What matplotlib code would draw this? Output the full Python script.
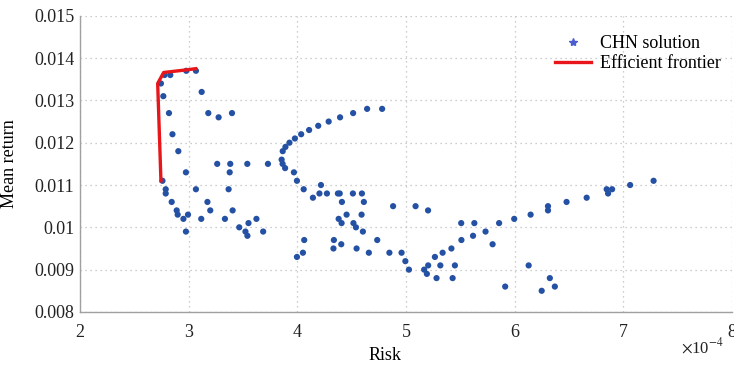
import numpy as np
import matplotlib
matplotlib.use("Agg")
import matplotlib.pyplot as plt
from matplotlib.lines import Line2D
from matplotlib import font_manager

names = {f.name for f in font_manager.fontManager.ttflist}
serif_pref = [n for n in ['Liberation Serif', 'Times New Roman', 'Nimbus Roman', 'DejaVu Serif'] if n in names]
plt.rcParams['font.family'] = 'serif'
plt.rcParams['font.serif'] = serif_pref + ['DejaVu Serif']
plt.rcParams['mathtext.fontset'] = 'stix'

# CHN solution points: risk (x 1e-4) and mean return
risk_e4 = [
    2.745, 2.778, 2.831, 2.978, 3.067, 2.767, 3.120, 2.819, 3.181, 3.276,
    3.399, 2.851, 2.905, 3.263, 3.383, 3.540, 3.730, 2.975, 3.378, 2.759,
    2.789, 2.789, 3.067, 3.368, 2.844, 3.173, 2.890, 2.899, 2.994, 3.199,
    3.405, 2.952, 3.116, 3.334, 2.975, 3.466, 3.523, 3.541, 3.551, 3.624,
    3.686, 3.856, 3.865, 3.888, 3.866, 3.891, 3.928, 3.978, 4.036, 4.109,
    4.193, 4.289, 4.394, 4.514, 4.643, 4.781, 3.969, 3.997, 4.059, 4.218,
    4.144, 4.204, 4.273, 4.374, 4.391, 4.512, 4.595, 4.411, 4.613, 4.882,
    5.089, 5.204, 4.381, 4.454, 4.592, 4.408, 4.517, 4.540, 4.604, 4.736,
    4.064, 4.337, 4.405, 4.333, 4.546, 4.659, 4.052, 3.997, 4.848, 4.960,
    4.995, 5.028, 5.168, 5.193, 5.282, 5.430, 5.205, 5.317, 5.451, 5.267,
    5.338, 5.419, 5.511, 5.618, 5.733, 5.798, 5.509, 5.630, 5.858, 5.997,
    6.148, 6.308, 6.308, 6.479, 6.664, 6.848, 6.898, 6.861, 7.064, 7.280,
    6.130, 6.325, 6.371, 6.250, 5.914,
]
mean_return = [
    0.0134, 0.0136, 0.0136, 0.0137, 0.0137, 0.0131, 0.0132, 0.0127, 0.0127, 0.0126,
    0.0127, 0.0122, 0.0118, 0.0115, 0.0115, 0.0115, 0.0115, 0.0113, 0.0113, 0.0111,
    0.0109, 0.0108, 0.0109, 0.0109, 0.0106, 0.0106, 0.0104, 0.0103, 0.0103, 0.0104,
    0.0104, 0.0102, 0.0102, 0.0102, 0.0099, 0.0100, 0.0099, 0.0098, 0.0101, 0.0102,
    0.0099, 0.0116, 0.0115, 0.0114, 0.0118, 0.0119, 0.0120, 0.0121, 0.0122, 0.0123,
    0.0124, 0.0125, 0.0126, 0.0127, 0.0128, 0.0128, 0.0113, 0.0111, 0.0109, 0.0110,
    0.0107, 0.0108, 0.0108, 0.0108, 0.0108, 0.0108, 0.0108, 0.0106, 0.0106, 0.0105,
    0.0105, 0.0104, 0.0102, 0.0103, 0.0103, 0.0101, 0.0101, 0.0100, 0.0099, 0.0097,
    0.0097, 0.0097, 0.0096, 0.0095, 0.0095, 0.0094, 0.0094, 0.0093, 0.0094, 0.0094,
    0.0092, 0.0090, 0.0090, 0.0089, 0.0088, 0.0088, 0.0091, 0.0091, 0.0091, 0.0093,
    0.0094, 0.0095, 0.0097, 0.0098, 0.0099, 0.0096, 0.0101, 0.0101, 0.0101, 0.0102,
    0.0103, 0.0105, 0.0104, 0.0106, 0.0107, 0.0109, 0.0109, 0.0108, 0.0110, 0.0111,
    0.0091, 0.0088, 0.0086, 0.0085, 0.0086,
]

# Efficient frontier
frontier_risk_e4 = [2.745, 2.715, 2.770, 2.975, 3.065]
frontier_return = [0.01110, 0.01340, 0.01366, 0.01372, 0.01375]

x_ticks = [2, 3, 4, 5, 6, 7, 8]
y_ticks = [0.008, 0.009, 0.010, 0.011, 0.012, 0.013, 0.014, 0.015]
y_tick_labels = ['0.008', '0.009', '0.01', '0.011', '0.012', '0.013', '0.014', '0.015']

scale = 1e-4
fig = plt.figure(figsize=(7.34, 3.67), dpi=100)
ax = fig.add_axes([0.109, 0.150, 0.888, 0.807])

ax.scatter(np.array(risk_e4) * scale, mean_return, s=20, color='#2451a3',
           edgecolors='none', zorder=3)
ax.plot(np.array(frontier_risk_e4) * scale, frontier_return, color='#e8161b',
        lw=2.4, zorder=4, solid_joinstyle='round')

ax.set_xlim(2e-4, 8e-4)
ax.set_ylim(0.008, 0.015)
ax.set_xticks(np.array(x_ticks) * scale)
ax.set_xticklabels([str(t) for t in x_ticks])
ax.set_yticks(y_ticks)
ax.set_yticklabels(y_tick_labels)
ax.tick_params(axis='both', length=0, labelsize=13, colors='#222222')
ax.tick_params(axis='x', pad=9)
ax.tick_params(axis='y', pad=4)

ax.grid(True, linestyle=(0, (1, 3)), color='#bdbdbd', lw=0.9)
ax.set_axisbelow(True)
for s in ['top', 'right']:
    ax.spines[s].set_visible(False)
for s in ['left', 'bottom']:
    ax.spines[s].set_color('#a0a0a0')
    ax.spines[s].set_linewidth(1.0)

ax.set_xlabel('Risk', fontsize=13)
ax.xaxis.set_label_coords(0.468, -0.118)
ax.set_ylabel('Mean return', fontsize=13)
ax.yaxis.set_label_coords(-0.095, 0.5)
ax.text(0.955, -0.118, r'$\times$10$^{-4}$', transform=ax.transAxes,
        fontsize=12, ha='center', va='center', color='#222222')

handles = [
    Line2D([], [], marker='*', color='#4a5ed0', linestyle='none', markersize=6),
    Line2D([], [], color='#e8161b', lw=2.4),
]
ax.legend(handles, ['CHN solution', 'Efficient frontier'], loc='upper right',
          bbox_to_anchor=(1.0, 0.97), frameon=False, fontsize=13,
          handlelength=2.0, handletextpad=0.5, labelspacing=0.15,
          borderaxespad=0.2)

fig.savefig('out.png', dpi=100)
